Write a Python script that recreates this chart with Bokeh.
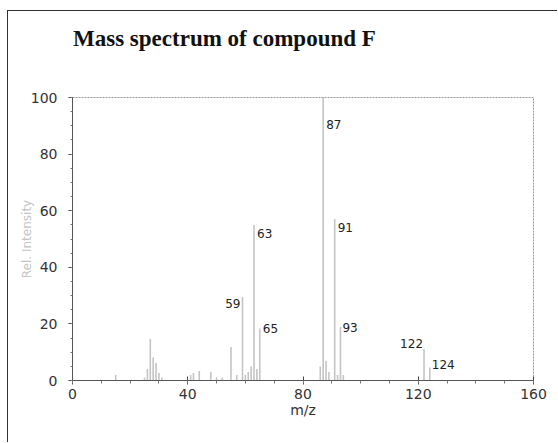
from bokeh.plotting import figure
from bokeh.models import ColumnDataSource, Range1d, FixedTicker, Div
from bokeh.layouts import column
from bokeh.core.properties import value
from bokeh.embed import file_html
from bokeh.resources import INLINE

# ---- data ----
mz = [15, 25, 26, 27, 28, 29, 30, 31, 41, 42, 44, 48, 50, 52, 55, 57, 59, 60, 61, 62, 63, 64, 65,
      86, 87, 88, 89, 91, 92, 93, 94, 122, 124]
intensity = [2, 1, 4, 14.5, 8, 6, 2.5, 1, 2, 2.5, 3.5, 3, 1, 1, 12, 2, 29.5, 2, 3, 5, 55, 4, 18.5,
             5, 100, 7, 3, 57, 2, 18.7, 2, 11, 4.5]
label_mz = [59, 63, 65, 87, 91, 93, 122, 124]
label_text = ["59", "63", "65", "87", "91", "93", "122", "124"]
title_text = "Mass spectrum of compound F"

x_ticks = [0, 40, 80, 120, 160]
y_ticks = [0, 20, 40, 60, 80, 100]

# ---- label styling (screen offsets, not data) ----
label_align = ["right", "left", "left", "left", "left", "left", "right", "left"]
label_dx = [-2, 3, 3, 3, 3, 2, -1, 2]
label_dy = [6, 9, 0, 27, 8, 0, -6, -3]

lookup = dict(zip(mz, intensity))
label_y = [lookup[m] for m in label_mz]

title_div = Div(
    text=('<div style="padding:16px 0 0 65px; font-family:\'Liberation Serif\'; font-size:23px;'
          ' font-weight:bold; line-height:23px; color:#111111; white-space:nowrap;">'
          + title_text + '</div>'),
    width=549, height=50, margin=0)

p = figure(width=549, height=381, output_backend="svg", toolbar_location=None,
           x_range=Range1d(0, 160), y_range=Range1d(0, 100),
           min_border_left=64, min_border_right=24, min_border_top=36, min_border_bottom=62)
p.margin = 0

p.segment(x0=mz, y0=[0] * len(mz), x1=mz, y1=intensity,
          line_color="#8a8a8a", line_width=1.6, line_dash="1 1")

src = ColumnDataSource(dict(x=label_mz, y=label_y, t=label_text, a=label_align,
                            dx=label_dx, dy=label_dy))
p.text(x="x", y="y", text="t", text_align="a", x_offset="dx", y_offset="dy",
       source=src, text_baseline="middle", text_font=value("DejaVu Sans"),
       text_font_size="12px", text_color="#222222")

p.grid.visible = False
p.outline_line_color = "#9a9a9a"
p.outline_line_dash = "2 1"
p.background_fill_color = "white"
p.border_fill_color = "white"

for ax in (p.xaxis[0], p.yaxis[0]):
    ax.axis_line_color = "#555555"
    ax.major_tick_line_color = "#444444"
    ax.minor_tick_line_color = "#777777"
    ax.major_label_text_font = "DejaVu Sans"
    ax.major_label_text_font_size = "14px"
    ax.major_label_text_color = "#333333"

p.xaxis.ticker = FixedTicker(ticks=x_ticks, minor_ticks=list(range(0, 161, 10)))
p.yaxis.ticker = FixedTicker(ticks=y_ticks, minor_ticks=list(range(0, 101, 5)))
p.xaxis.major_tick_in = 4
p.xaxis.major_tick_out = 4
p.xaxis.minor_tick_in = 0
p.xaxis.minor_tick_out = 3
p.yaxis.major_tick_in = 0
p.yaxis.major_tick_out = 4
p.yaxis.minor_tick_in = 0
p.yaxis.minor_tick_out = 2
p.yaxis.major_label_standoff = 11
p.xaxis.major_label_standoff = 4

p.xaxis.axis_label = "m/z"
p.xaxis.axis_label_text_font = "DejaVu Sans"
p.xaxis.axis_label_text_font_style = "normal"
p.xaxis.axis_label_text_font_size = "14px"
p.xaxis.axis_label_text_color = "#333333"
p.xaxis.axis_label_standoff = 0

p.yaxis.axis_label = "Rel. Intensity"
p.yaxis.axis_label_text_font = "DejaVu Sans"
p.yaxis.axis_label_text_font_style = "normal"
p.yaxis.axis_label_text_font_size = "12px"
p.yaxis.axis_label_text_color = "#c4c4c4"
p.yaxis.axis_label_standoff = -6

layout = column(title_div, p, spacing=0,
                styles={"border-left": "1px solid #333333", "border-top": "1px solid #333333",
                        "margin-left": "7px", "margin-top": "10px"})

open("out.html", "w").write(file_html(layout, INLINE))
